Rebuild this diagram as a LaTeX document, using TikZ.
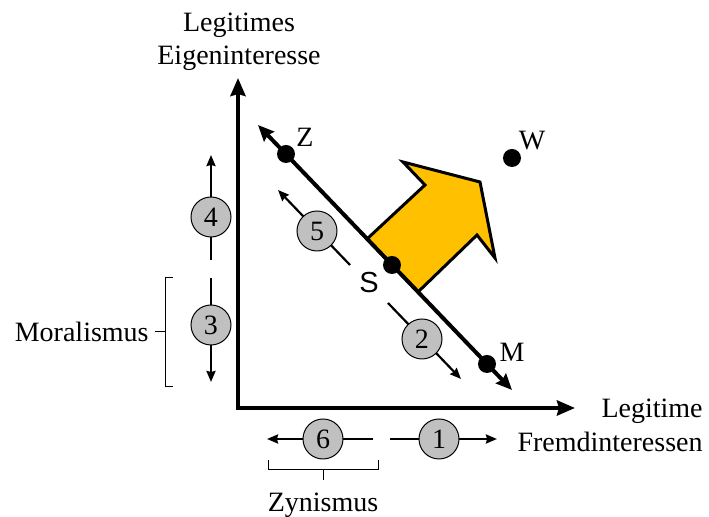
\documentclass[tikz,border=0pt]{standalone}
\usepackage{fontspec}
\setmainfont{Liberation Serif}
\newfontfamily\arialfont{Liberation Sans}
\usetikzlibrary{arrows.meta}
\definecolor{orangefill}{HTML}{FFC000}
\definecolor{circgray}{HTML}{C0C0C0}
\begin{document}
\begin{tikzpicture}[x=0.5pt,y=-0.5pt,
  txt/.style={font=\fontsize{14}{16}\selectfont, inner sep=0pt, anchor=base},
  axis/.style={line width=2pt, -{Stealth[length=9pt,width=7.5pt,inset=1pt]}},
  diag/.style={line width=2pt, {Stealth[length=8pt,width=7pt,inset=1pt]}-{Stealth[length=8pt,width=7pt,inset=1pt]}},
  small/.style={line width=1.1pt, -{Stealth[length=5.5pt,width=4.5pt,inset=0.5pt]}},
  numc/.style={circle, draw, line width=0.5pt, fill=circgray, minimum size=20pt, inner sep=0pt, font=\fontsize{14}{16}\selectfont},
  dot/.style={circle, fill=black, minimum size=9pt, inner sep=0pt},
  brk/.style={line width=0.5pt}
]
\useasboundingbox (0,0) rectangle (709,517);

% axes
\coordinate (O) at (238,408);
\coordinate (ytip) at (238,78);
\coordinate (xtip) at (575,408);
\draw[axis] ([yshift=-1pt]O) -- (ytip);
\draw[axis] ([xshift=-1pt]O) -- (xtip);

% axis labels
\node[txt, align=center] (ylab1) at (239,32) {Legitimes};
\node[txt] (ylab2) at (239,65) {Eigeninteresse};
\node[txt, anchor=base east] (xlab1) at (703,418) {Legitime};
\node[txt, anchor=base east] (xlab2) at (703,452) {Fremdinteressen};

% orange arrow
\draw[line width=1.5pt, fill=orangefill, line join=miter]
  (367,239) -- (425,185) -- (403,162) -- (480,182) -- (495,258) -- (477,235) -- (418,292) -- cycle;

% diagonal line
\coordinate (dA) at (258,125);
\coordinate (dB) at (512,390);
\draw[diag] (dA) -- (dB);
\node[dot] (Z) at (286,154) {};
\node[dot] (S) at (392,265) {};
\node[dot] (M) at (487,364) {};
\node[dot] (W) at (512,158) {};
\node[txt] (Zl) at (305,147) {Z};
\node[txt] (Ml) at (512,362) {M};
\node[txt] (Wl) at (532,150) {W};
\node[txt, font=\arialfont\fontsize{14.5}{16}\selectfont] (Sl) at (369,293) {S};

% small arrows
\coordinate (a4s) at (211,260); \coordinate (a4e) at (211,155);
\coordinate (a3s) at (211,278); \coordinate (a3e) at (211,382);
\coordinate (a6s) at (373,439); \coordinate (a6e) at (267,439);
\coordinate (a1s) at (390,439); \coordinate (a1e) at (497,439);
\coordinate (a5s) at (350,265); \coordinate (a5e) at (278,190);
\coordinate (a2s) at (388,303); \coordinate (a2e) at (461,379);
\draw[small] (a4s) -- (a4e);
\draw[small] (a3s) -- (a3e);
\draw[small] (a6s) -- (a6e);
\draw[small] (a1s) -- (a1e);
\draw[small] (a5s) -- (a5e);
\draw[small] (a2s) -- (a2e);
\node[numc] (c4) at (211,217) {4};
\node[numc] (c3) at (211,325) {3};
\node[numc] (c6) at (323,439) {6};
\node[numc] (c1) at (439,439) {1};
\node[numc] (c5) at (317,231) {5};
\node[numc] (c2) at (422,339) {2};

% brackets
\draw[brk] (173,278) -- (165,278) -- (165,387) -- (173,387);
\draw[brk] (165,332) -- (155,332);
\node[txt, anchor=base east] (mor) at (149,342) {Moralismus};
\draw[brk] (268,460) -- (268,470) -- (378,470) -- (378,460);
\draw[brk] (323,470) -- (323,480);
\node[txt] (zyn) at (323,512) {Zynismus};
\end{tikzpicture}
\end{document}
